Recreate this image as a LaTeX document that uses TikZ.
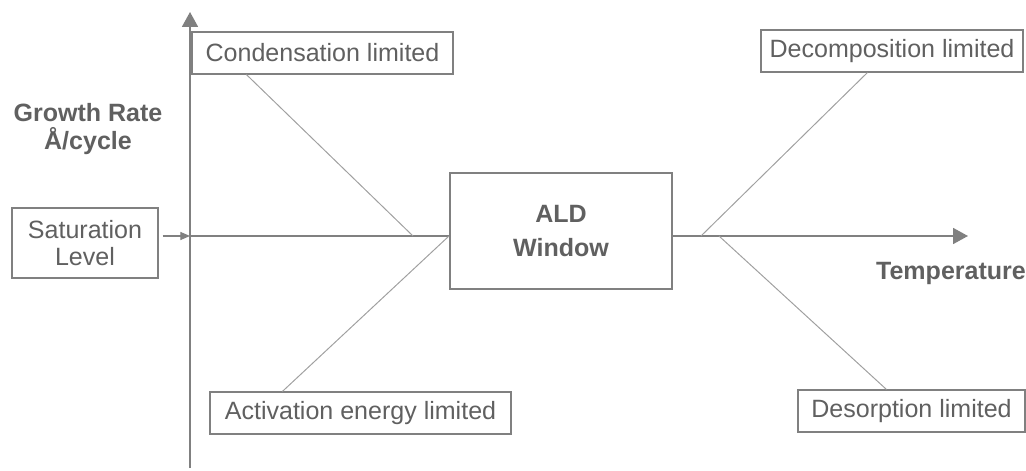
\documentclass[tikz,border=0pt]{standalone}
\usepackage{fontspec}
\setmainfont{Liberation Sans}
\usetikzlibrary{arrows.meta}
\definecolor{linegray}{RGB}{128,128,128}
\definecolor{thingray}{RGB}{160,160,160}
\definecolor{textgray}{RGB}{96,96,96}
\begin{document}
\begin{tikzpicture}[
        x=0.025cm, y=-0.025cm,
        every node/.style={font=\fontsize{17.8}{21}\selectfont, text=textgray},
        limite/.style={draw=linegray, line width=0.8pt, fill=white, inner sep=0pt, minimum height=1.05cm},
        ventana/.style={draw=linegray, line width=0.8pt, fill=white, inner sep=0pt, minimum width=5.55cm, minimum height=2.9cm, align=center, font=\fontsize{17.8}{23.5}\selectfont\bfseries},
        rotulo/.style={align=center, font=\fontsize{17.8}{20}\selectfont\bfseries},
        eje/.style={draw=linegray, line width=1.3pt, -{Triangle[length=0.375cm, width=0.4cm]}},
        rama/.style={draw=thingray, line width=0.7pt}
    ]
    \useasboundingbox (0,0) rectangle (1026,471);

    % Ejes
    \coordinate (origen) at (190,236);
    \coordinate (ybajo) at (190,468);
    \coordinate (yarriba) at (190,12);
    \coordinate (xfin) at (968,236);
    \draw[eje] (ybajo) -- (yarriba);
    \draw[eje] (origen) -- (xfin);

    % Puntos en el eje
    \coordinate (pcond) at (413,236);
    \coordinate (pact) at (449,236);
    \coordinate (pdecomp) at (701,236);
    \coordinate (pdes) at (719,236);

    % Cajas
    \node[limite, minimum width=6.525cm] (condensacion) at (322.5,53) {Condensation limited};
    \node[limite, minimum width=6.55cm] (descomposicion) at (892,51) {Decomposition limited};
    \node[limite, minimum width=7.525cm] (activacion) at (360.5,413) {Activation energy limited};
    \node[limite, minimum width=5.675cm] (desorcion) at (911.5,411) {Desorption limited};
    \node[limite, minimum width=3.65cm, minimum height=1.75cm, align=center,
          font=\fontsize{17.8}{19}\selectfont] (saturacion) at (85,243) {Saturation\\Level};
    \node[ventana] (ventana) at (561,231) {ALD\\Window};

    % Rotulos
    \node[rotulo] (crecimiento) at (88,129) {Growth Rate\\Å/cycle};
    \node[rotulo] (temperatura) at (951,273) {Temperature};

    % Ramas
    \draw[rama] ([xshift=1.375cm]condensacion.south west) -- (pcond);
    \draw[rama] ([xshift=1.825cm]activacion.north west) -- (pact);
    \draw[rama] ([xshift=2.675cm]descomposicion.south west) -- (pdecomp);
    \draw[rama] ([xshift=2.225cm]desorcion.north west) -- (pdes);
    \draw[draw=linegray, line width=0.8pt, -{Triangle[length=0.24cm, width=0.2cm]}]
        (saturacion.east |- origen) ++(0.1cm,0) -- (origen);
\end{tikzpicture}
\end{document}
